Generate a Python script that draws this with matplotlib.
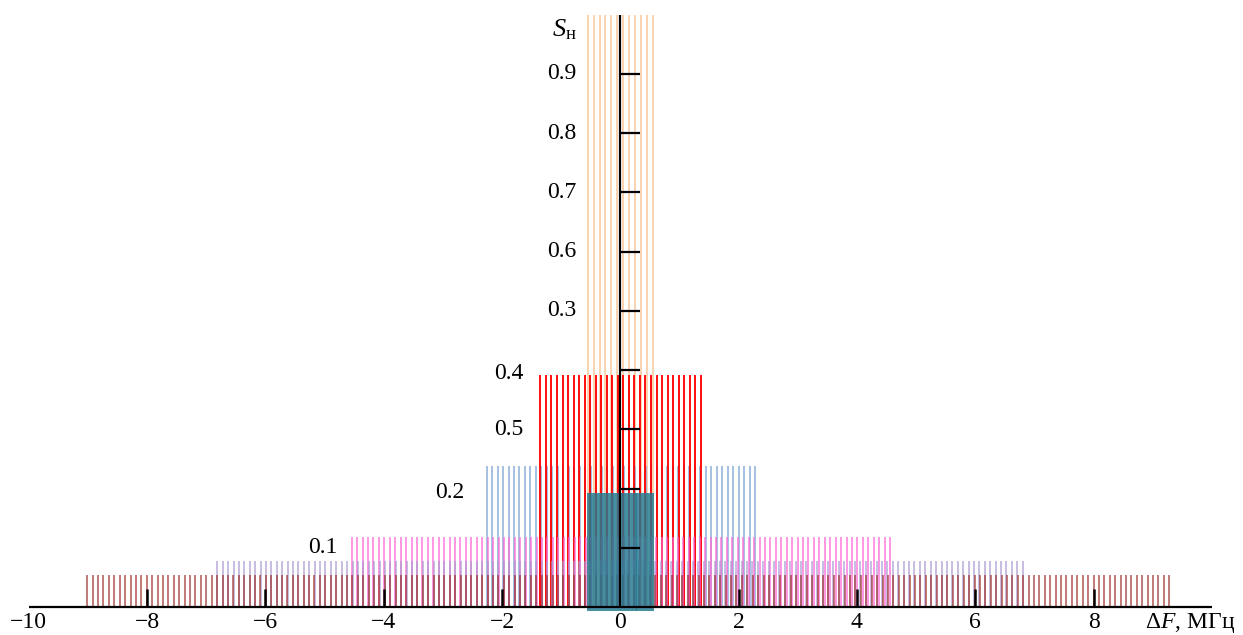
import numpy as np
import matplotlib
matplotlib.use('Agg')
from matplotlib import pyplot as plt

plt.rcParams['font.family'] = ['Liberation Serif', 'DejaVu Serif']
plt.rcParams['mathtext.fontset'] = 'custom'
plt.rcParams['mathtext.rm'] = 'Liberation Serif'
plt.rcParams['mathtext.it'] = 'Liberation Serif:italic'

# line spectra: (left edge, right edge, number of lines, amplitude)
# drawn roughly from narrowest to widest, the dense band on top
names = ['orange', 'blue', 'red', 'pink', 'lavender', 'brown', 'teal']
left_edge = [-0.55, -2.26, -1.35, -4.54, -6.81, -9.01, -0.55]
right_edge = [0.55, 2.28, 1.36, 4.56, 6.80, 9.28, 0.56]
n_lines = [12, 50, 30, 100, 150, 201, 34]
amplitude = [1.0, 0.238, 0.392, 0.118, 0.078, 0.055, 0.192]

colors = ['#f8b47c', '#84a8d8', '#ff0000', '#ff66d6', '#a898d0', '#9c2a26', '#23798f']
alphas = [0.75, 0.85, 0.95, 0.8, 0.75, 0.8, 0.85]
widths = [1.1, 1.2, 1.4, 1.2, 1.2, 1.1, 1.4]

x_ticks = [-8, -6, -4, -2, 2, 4, 6, 8]
x_labels = ['\u221210', '\u22128', '\u22126', '\u22124', '\u22122', '0', '2', '4', '6', '8']
x_label_pos = [-10, -8, -6, -4, -2, 0, 2, 4, 6, 8]

y_ticks = [0.1, 0.2, 0.3, 0.4, 0.5, 0.6, 0.7, 0.8, 0.9]
y_labels = ['0.9', '0.8', '0.7', '0.6', '0.3', '0.4', '0.5', '0.2', '0.1']
y_label_y = [0.9, 0.8, 0.7, 0.6, 0.5, 0.395, 0.3, 0.194, 0.1]
y_label_x = [-0.74, -0.74, -0.74, -0.74, -0.74, -1.63, -1.63, -2.64, -4.78]

fig = plt.figure(figsize=(12.43, 6.35), dpi=100)
ax = fig.add_axes([0, 0, 1, 1])
ax.set_xlim(-10.485, 10.526)
ax.set_ylim(-0.0468, 1.0245)
ax.axis('off')

for i in range(len(names)):
    xs = np.linspace(left_edge[i], right_edge[i], n_lines[i])
    bottom = -0.006 if names[i] == 'teal' else 0
    ax.vlines(xs, bottom, amplitude[i], colors=colors[i], alpha=alphas[i],
              linewidth=widths[i], zorder=2 + i)

# axes
ax.plot([-10, 10], [0, 0], color='black', lw=1.6, zorder=20, solid_capstyle='butt')
ax.plot([0, 0], [0, 1.0], color='black', lw=1.6, zorder=20, solid_capstyle='butt')
for t in x_ticks:
    ax.plot([t, t], [0, 0.03], color='black', lw=1.8, zorder=20, solid_capstyle='butt')
for t in y_ticks:
    ax.plot([0, 0.33], [t, t], color='black', lw=1.6, zorder=20, solid_capstyle='butt')

for lab, x in zip(x_labels, x_label_pos):
    ax.text(x, -0.026, lab, ha='center', va='center', fontsize=17)
for lab, x, y in zip(y_labels, y_label_x, y_label_y):
    ax.text(x, y, lab, ha='right', va='center', fontsize=17)

ax.text(9.63, -0.026, '\u0394$F$, МГц', ha='center', va='center', fontsize=17)
ax.text(-0.74, 0.975, '$S_{\\mathrm{н}}$', ha='right', va='center', fontsize=19)

fig.savefig('out.png', dpi=100)
